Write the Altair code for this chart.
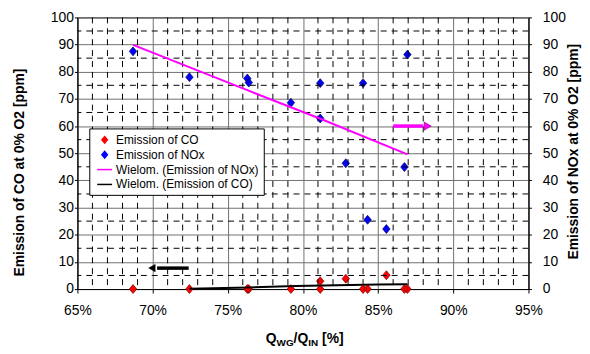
import altair as alt
import pandas as pd

# ---------------- data ----------------
x_vals = [68.7, 72.45, 76.3, 76.4, 79.2, 81.15, 81.15, 82.85, 84.0, 84.3, 85.55, 86.75, 86.95]
co_vals = [0, 0, 0, 0, 0, 2.9, 0, 3.8, 0, 0, 5.1, 0, 0]
nox_vals = [87.5, 78.0, 77.5, 76.0, 68.6, 75.8, 62.8, 46.3, 75.8, 25.5, 22.1, 44.9, 86.3]

nox_trend_x = [68.7, 76.3, 81.2, 86.95]
nox_trend_y = [89.9, 73.2, 62.6, 49.6]
co_trend_x = [72.45, 76.4, 79.5, 85.0, 86.95]
co_trend_y = [0.1, 0.6, 1.1, 1.7, 1.8]

# arrows: shaft start/end and head position
co_arrow_shaft = [72.4, 70.3]
co_arrow_head = 69.95
co_arrow_y = 7.7
nox_arrow_shaft = [86.0, 88.0]
nox_arrow_head = 88.3
nox_arrow_y = 60

series = ["Emission of CO", "Emission of NOx",
          "Wielom. (Emission of NOx)", "Wielom. (Emission of CO)"]
series_colors = ["#ff0000", "#0000ff", "#ff00ff", "#000000"]

major_x = [65, 70, 75, 80, 85, 90, 95]
minor_x = [v for v in range(66, 95) if v % 5 != 0]
major_y = list(range(0, 101, 10))
minor_y = list(range(5, 100, 10))

FONT = "Liberation Sans"
W, H = 455, 274

DIAMOND = "M0,-0.6L0.5,0L0,0.6L-0.5,0Z"
LINE = "M-1,-0.1H1V0.1H-1Z"
PAD = "\u00a0" * 7

xs = alt.Scale(domain=[65, 95], nice=False, zero=False)
ys = alt.Scale(domain=[0, 100], nice=False)

pts = pd.DataFrame({
    "x": x_vals * 2,
    "y": co_vals + nox_vals,
    "series": ["Emission of CO"] * len(x_vals) + ["Emission of NOx"] * len(x_vals),
})
co_tr = pd.DataFrame({"x": co_trend_x, "y": co_trend_y})
nox_tr = pd.DataFrame({"x": nox_trend_x, "y": nox_trend_y})

# ---------------- axes (same object reused in every layer so they merge) ----------------
x_axis = alt.Axis(values=major_x, labelExpr="datum.value + '%'", grid=True,
                  gridColor="#707070", gridWidth=1, tickSize=4, tickColor="#000",
                  domainColor="#000", labelPadding=11, labelFont=FONT,
                  labelFontSize=14, labelColor="#000", labelFlush=False, title=None)
yl_axis = alt.Axis(values=major_y, grid=True, gridColor="#707070", gridWidth=1,
                   tickSize=3, tickColor="#000", domainColor="#000",
                   labelPadding=1, labelFont=FONT, labelFontSize=14,
                   labelColor="#000", labelFlush=False, orient="left",
                   title="Emission of CO at 0% O2 [ppm]", titleFont=FONT,
                   titleFontSize=14, titleFontWeight="bold", titleColor="#000",
                   titleAngle=270, titleAlign="center", titleBaseline="bottom",
                   titleX=-51, titleY=156)
yr_axis = alt.Axis(values=major_y, grid=False, tickSize=3, tickColor="#000",
                   domainColor="#000", labelPadding=11, labelFont=FONT,
                   labelFontSize=14, labelColor="#000", labelFlush=False, orient="right",
                   title="Emission of NOx at 0% O2 [ppm]", titleFont=FONT,
                   titleFontSize=14, titleFontWeight="bold", titleColor="#000",
                   titleAngle=270, titleAlign="center", titleBaseline="bottom",
                   titleX=52, titleY=135)

X = alt.X("x:Q", scale=xs, axis=x_axis)
YL = alt.Y("y:Q", scale=ys, axis=yl_axis)
YR = alt.Y("y:Q", scale=ys, axis=yr_axis)

# ---------------- left (CO) group ----------------
points = alt.Chart(pts).mark_point(filled=True, size=225, opacity=1).encode(
    x=X, y=YL,
    color=alt.Color("series:N", scale=alt.Scale(domain=series, range=series_colors),
                    legend=alt.Legend(title=None, orient="none", legendX=12, legendY=112,
                                      fillColor="white", strokeColor="black",
                                      padding=4, symbolSize=225, symbolOffset=4,
                                      symbolStrokeWidth=0, rowPadding=1,
                                      labelFont=FONT, labelFontSize=12,
                                      labelColor="#000", labelOffset=4,
                                      labelExpr="datum.label + '" + PAD + "'")),
    shape=alt.Shape("series:N", scale=alt.Scale(domain=series,
                                                range=[DIAMOND, DIAMOND, LINE, LINE])),
)

grid_vx = alt.Chart(pd.DataFrame({"x": minor_x})).mark_rule(
    color="#000000", strokeWidth=1, strokeDash=[6, 5]
).encode(x=X)

grid_hy = alt.Chart(pd.DataFrame({"y": minor_y})).mark_rule(
    color="#000000", strokeWidth=1, strokeDash=[6, 5]
).encode(y=YL)

outline_co = alt.Chart(pts).transform_filter(
    alt.datum.series == "Emission of CO"
).mark_point(shape=DIAMOND, size=225, filled=False, stroke="#700000",
             strokeWidth=0.7, opacity=1).encode(x=X, y=YL)
outline_nox = alt.Chart(pts).transform_filter(
    alt.datum.series == "Emission of NOx"
).mark_point(shape=DIAMOND, size=225, filled=False, stroke="#000060",
             strokeWidth=0.7, opacity=1).encode(x=X, y=YL)

co_line = alt.Chart(co_tr).mark_line(color="#000000", strokeWidth=2).encode(x=X, y=YL)

co_shaft = alt.Chart(pd.DataFrame({"x": [co_arrow_shaft[0]], "x2": [co_arrow_shaft[1]],
                                   "y": [co_arrow_y]})).mark_rule(
    color="#000000", strokeWidth=3.5).encode(x=X, x2="x2:Q", y=YL)
co_head = alt.Chart(pd.DataFrame({"x": [co_arrow_head], "y": [co_arrow_y]})).mark_point(
    shape="triangle-left", size=70, filled=True, color="#000000", opacity=1).encode(x=X, y=YL)

# x-axis title with subscripts
def txt(s, px, py, size):
    return alt.Chart(pd.DataFrame({"a": [0]})).mark_text(
        font=FONT, fontSize=size, fontWeight="bold", color="#000",
        align="left", baseline="alphabetic").encode(
        x=alt.value(px), y=alt.value(py), text=alt.value(s))

xt = [txt("Q", 190, 328, 14), txt("WG", 200.9, 331, 10), txt("/Q", 218.1, 328, 14),
      txt("IN", 232.9, 331, 10), txt("[%]", 246.8, 328, 14)]

left = alt.layer(points, grid_vx, grid_hy, co_line, co_shaft, co_head,
                 outline_co, outline_nox, *xt)

# ---------------- right (NOx) group ----------------
nox_line = alt.Chart(nox_tr).mark_line(color="#ff00ff", strokeWidth=2).encode(x=X, y=YR)
nox_shaft = alt.Chart(pd.DataFrame({"x": [nox_arrow_shaft[0]], "x2": [nox_arrow_shaft[1]],
                                    "y": [nox_arrow_y]})).mark_rule(
    color="#ff00ff", strokeWidth=3.5).encode(x=X, x2="x2:Q", y=YR)
nox_head = alt.Chart(pd.DataFrame({"x": [nox_arrow_head], "y": [nox_arrow_y]})).mark_point(
    shape="triangle-right", size=70, filled=True, color="#ff00ff",
    stroke="#600060", strokeWidth=0.5, opacity=1).encode(x=X, y=YR)

right = alt.layer(nox_line, nox_shaft, nox_head)

chart = alt.layer(left, right).resolve_scale(y="independent").properties(
    width=W, height=H,
    autosize=alt.AutoSizeParams(type="none"),
    padding={"left": 70, "top": 8, "right": 54, "bottom": 59},
    background="white",
).configure_view(stroke="#000000", strokeWidth=1)

chart.save("out.html", embed_options={"renderer": "svg", "actions": False})
